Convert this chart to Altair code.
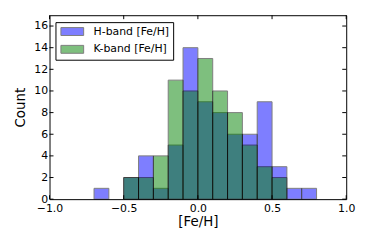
import altair as alt
import pandas as pd

bin_starts = [-0.7, -0.6, -0.5, -0.4, -0.3, -0.2, -0.1, 0.0, 0.1, 0.2, 0.3, 0.4, 0.5, 0.6, 0.7]
bin_width = 0.1
h_counts = [1, 0, 2, 4, 1, 5, 14, 9, 8, 6, 6, 9, 3, 1, 1]
k_counts = [0, 0, 2, 2, 4, 11, 10, 13, 10, 8, 5, 3, 2, 0, 0]
series = ["H-band [Fe/H]", "K-band [Fe/H]"]
colors = ["#0000ff", "#008000"]
x_ticks = [-1.0, -0.5, 0.0, 0.5, 1.0]
y_ticks = [0, 2, 4, 6, 8, 10, 12, 14, 16]

rows = []
for name, counts in zip(series, [h_counts, k_counts]):
    for b, c in zip(bin_starts, counts):
        if c > 0:
            rows.append({"series": name, "order": series.index(name), "x0": round(b, 2),
                         "x1": round(b + bin_width, 2), "count": c, "base": 0})
df = pd.DataFrame(rows)
xt = pd.DataFrame({"v": x_ticks})
yt = pd.DataFrame({"v": y_ticks})

FONT = "DejaVu Sans"
W, H = 300, 186
xs = alt.Scale(domain=[-1.0, 1.0], nice=False, zero=False)
ys = alt.Scale(domain=[0, 17], nice=False)

xaxis = alt.Axis(values=x_ticks, format=".1f", title="[Fe/H]", tickSize=0, domain=False,
                 grid=False, labelFlush=False, labelOverlap=False, labelPadding=3,
                 titlePadding=2, labelFontSize=11, titleFontSize=13.5,
                 titleFontWeight="normal", labelFont=FONT, titleFont=FONT,
                 labelColor="black", titleColor="black")
yaxis = alt.Axis(values=y_ticks, format="d", title="Count", tickSize=0, domain=False,
                 grid=False, labelFlush=False, labelOverlap=False, labelPadding=2,
                 titlePadding=6, labelFontSize=11, titleFontSize=13.5,
                 titleFontWeight="normal", labelFont=FONT, titleFont=FONT,
                 labelColor="black", titleColor="black")

bars = alt.Chart(df).mark_bar(opacity=0.5, stroke="black", strokeWidth=1).encode(
    x=alt.X("x0:Q", scale=xs, axis=xaxis),
    x2="x1:Q",
    y=alt.Y("count:Q", scale=ys, axis=yaxis),
    y2="base:Q",
    color=alt.Color("series:N", scale=alt.Scale(domain=series, range=colors),
                    legend=alt.Legend(title=None, orient="none", legendX=6, legendY=7,
                                      padding=4, strokeColor="black", fillColor="white",
                                      symbolType="M-2.875,-1H2.875V1H-2.875Z", symbolSize=64,
                                      symbolOffset=7.5,
                                      symbolStrokeColor="black", symbolStrokeWidth=1,
                                      symbolOpacity=0.5, labelFont=FONT, labelFontSize=11,
                                      labelColor="black", labelOffset=16, rowPadding=5,
                                      cornerRadius=0)),
    order=alt.Order("order:Q"),
)

tick_color = "black"
xb = alt.Chart(xt).mark_rule(color=tick_color, strokeWidth=1).encode(
    x=alt.X("v:Q", scale=xs, axis=xaxis), y=alt.value(H), y2=alt.value(H - 4))
xtop = alt.Chart(xt).mark_rule(color=tick_color, strokeWidth=1).encode(
    x=alt.X("v:Q", scale=xs, axis=xaxis), y=alt.value(0), y2=alt.value(4))
yl = alt.Chart(yt).mark_rule(color=tick_color, strokeWidth=1).encode(
    y=alt.Y("v:Q", scale=ys, axis=yaxis), x=alt.value(0), x2=alt.value(4))
yr = alt.Chart(yt).mark_rule(color=tick_color, strokeWidth=1).encode(
    y=alt.Y("v:Q", scale=ys, axis=yaxis), x=alt.value(W), x2=alt.value(W - 4))

chart = alt.layer(bars, xb, xtop, yl, yr).properties(
    width=W, height=H,
    background="white",
    autosize=alt.AutoSizeParams(type="none"),
    padding={"left": 42, "top": 6, "right": 20, "bottom": 40},
).configure_view(stroke="black", strokeWidth=1)

chart.save("out.html", embed_options={"renderer": "svg", "actions": False})
